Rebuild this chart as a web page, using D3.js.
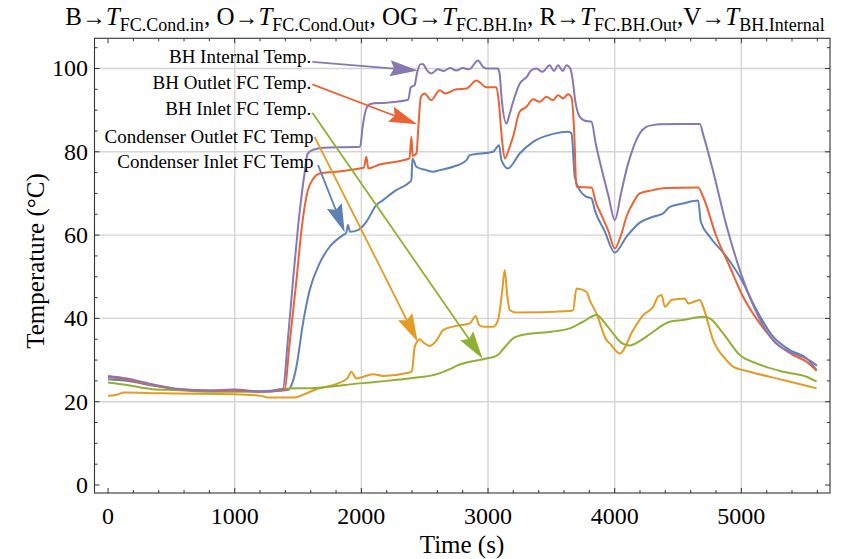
<!DOCTYPE html>
<html><head><meta charset="utf-8">
<script src="https://cdn.jsdelivr.net/npm/d3@7"></script>
<style>body{margin:0;background:#fff}</style>
</head><body><svg id="c" width="842" height="559"></svg>
<script>
// ---------- DATA (time s, temperature °C) ----------
const condInlet = [ // B  -> T_FC.Cond.in (blue)
[0,25.4],[150,25],[350,23.9],[550,23],[800,22.6],[1000,22.7],[1200,22.4],[1420,22.8],[1460,25],[1487,28.4],[1539,38.8],[1592,46.8],[1670,53.2],[1750,57.2],[1855,60],[1880,60.5],[1894,62.4],[1910,60.8],[1973,61.2],[2039,63.2],[2118,67.2],[2171,68.4],[2276,70.8],[2368,72.4],[2395,73.2],[2403,78.4],[2434,76.4],[2513,75.6],[2566,75.2],[2619,75.6],[2724,76.4],[2830,78],[2856,79.2],[3040,80],[3087,81.6],[3106,78],[3158,76],[3250,79.6],[3356,82.4],[3514,84.3],[3632,84.8],[3659,84.4],[3685,74],[3724,70.8],[3777,69.2],[3817,68.8],[3843,66],[3920,61],[4001,55.8],[4093,59.6],[4198,63],[4304,64.4],[4383,65.2],[4435,66.8],[4540,67.6],[4659,68.3],[4680,63.2],[4751,59.6],[4883,54.8],[4988,50],[5120,42],[5251,35.6],[5383,32.4],[5515,30.4],[5594,27.6]];
const condOutlet = [ // O -> T_FC.Cond.Out (orange)
[0,21.4],[60,21.6],[130,22.2],[420,22],[1000,21.8],[1210,21.4],[1262,21],[1473,21],[1550,21.8],[1644,23],[1815,24.4],[1890,25.6],[1921,27.2],[1960,25.6],[2092,26.6],[2171,26.2],[2381,27],[2400,27.4],[2420,33],[2445,34.6],[2460,35],[2490,34.2],[2540,33.4],[2600,35],[2645,37.2],[2750,38.2],[2856,38.8],[2903,40.6],[2930,38.4],[2970,38],[3040,38],[3079,39.6],[3110,46],[3132,51.6],[3150,46],[3171,42],[3224,41.4],[3645,41.8],[3672,42],[3698,47.2],[3777,46.4],[3803,44.4],[3856,41.2],[3935,34.8],[3961,34],[4040,31.6],[4146,37.2],[4225,40.8],[4304,42.8],[4343,45.2],[4370,45.6],[4396,42.8],[4449,44.4],[4554,44.8],[4580,43.6],[4672,44.4],[4698,42.8],[4777,34.8],[4883,30],[4935,28.4],[5067,27.2],[5330,25.2],[5594,23.2]];
const bhInlet = [ // OG -> T_FC.BH.In (green)
[0,24.6],[150,24],[350,23],[525,22.8],[800,22.4],[1236,22.4],[1381,23.1],[1631,23.3],[1987,24.4],[2200,25],[2487,26],[2540,26.2],[2698,27.8],[2750,28.6],[2961,30.2],[3066,31],[3130,33],[3198,35.2],[3303,36.2],[3500,36.8],[3645,37.6],[3750,39.2],[3856,40.8],[3920,39],[3987,36.4],[4060,34],[4119,33.5],[4200,34.6],[4277,36.2],[4435,39.2],[4540,39.6],[4698,40.4],[4751,40],[4856,36.4],[4988,31.2],[5120,29.2],[5330,27.2],[5515,26],[5594,24.8]];
const bhOutlet = [ // R -> T_FC.BH.Out (red)
[0,25.9],[150,25.3],[350,24],[550,23],[800,22.6],[1000,22.7],[1200,22.4],[1394,22.8],[1430,33],[1487,49],[1530,62],[1578,70.8],[1620,73.5],[1670,74.8],[1802,75.2],[1987,76],[2020,76.2],[2039,78.8],[2055,76],[2150,77],[2250,77.5],[2380,78.4],[2395,83.6],[2405,79],[2435,79.6],[2450,86],[2470,93.2],[2500,94],[2550,92.4],[2619,94.8],[2660,94],[2750,95],[2830,95.2],[2908,97.1],[2987,95.5],[3066,95.5],[3085,92],[3106,84.4],[3132,78.4],[3171,81.2],[3198,83.6],[3250,89.6],[3303,90.8],[3356,92.6],[3408,92],[3461,93.2],[3514,92.4],[3553,93.6],[3593,92.8],[3632,93.8],[3660,93],[3680,85],[3698,71.6],[3817,71.4],[3850,68],[3900,64.5],[3950,61],[4001,56.8],[4050,60],[4093,64.4],[4150,68],[4198,70],[4304,70.8],[4400,71.3],[4659,71.4],[4698,69.2],[4804,59.6],[4909,52.4],[5014,45.2],[5146,38.8],[5278,34],[5409,31.2],[5515,29.6],[5594,27.4]];
const bhInternal = [ // V -> T_BH.Internal (purple)
[0,26.2],[150,25.6],[350,24.2],[550,23.1],[800,22.7],[1000,22.9],[1200,22.5],[1380,23],[1420,35],[1460,49],[1500,62],[1552,75],[1575,79.5],[1620,80.5],[1700,81],[1990,81.2],[2010,86],[2040,90.5],[2070,91.5],[2200,91.8],[2370,92.5],[2390,95.5],[2420,96],[2440,99],[2465,101],[2484,101.1],[2520,99.5],[2553,98.8],[2603,99.8],[2650,99.4],[2700,100.1],[2750,99.5],[2800,100.1],[2850,99.8],[2921,101.9],[2960,100.4],[2987,100],[3077,100],[3090,99],[3110,92],[3145,86.8],[3170,89],[3195,91.7],[3251,96.4],[3306,98],[3340,99.5],[3382,100],[3430,99.2],[3487,100.8],[3520,99.4],[3553,100.8],[3590,99.4],[3619,100.8],[3650,100],[3665,98],[3690,92],[3724,88.4],[3760,87.5],[3817,87.2],[3850,82],[3900,75.5],[3950,69.5],[4001,63.6],[4050,70],[4100,76.5],[4143,80.7],[4200,84.5],[4250,86],[4301,86.4],[4356,86.6],[4500,86.7],[4672,86.7],[4700,84],[4775,75.6],[4885,62],[4988,51.6],[5122,41.3],[5249,34.8],[5384,31.9],[5518,30.3],[5560,29.5],[5597,28.6]];

const seriesColors = ["#5E81B5","#E19C24","#8FB032","#EB6235","#8778B3"];
const xTicks = [0,1000,2000,3000,4000,5000];
const yTicks = [0,20,40,60,80,100];
const xLabel = "Time (s)";
const yLabel = "Temperature (\u00B0C)";
const titleKeys = ["B","O","OG","R","V"];
const titleSubs = ["FC.Cond.in","FC.Cond.Out","FC.BH.In","FC.BH.Out","BH.Internal"];
// annotation labels: text, label anchor (t,v), arrow start (t,v), arrow tip (t,v)
const annLabels = ["BH Internal Temp.","BH Outlet FC Temp.","BH Inlet FC Temp.","Condenser Outlet FC Temp","Condenser Inlet FC Temp"];
const annSeries = [4,3,2,1,0];
const annTextPos = [[1605,101.4],[1605,95.1],[1605,88.8],[1622,82.1],[1622,76.0]];
const annStart = [[1613,101.6],[1613,96.2],[1613,89.4],[1631,83.6],[1658,76.8]];
const annTip = [[2447,99.5],[2440,86.6],[2957,30.3],[2445,34.4],[1868,60.7]];

// ---------- CHART ----------
const svg = d3.select("#c");
const L = 94.5, R = 830, T = 38.3, B = 493;
const x = d3.scaleLinear().domain([-107, 5700]).range([L, R]);
const y = d3.scaleLinear().domain([-1.92, 107.25]).range([B, T]);
const font = "'Liberation Serif','Times New Roman',serif";

// grid
const g = svg.append("g");
g.selectAll(".gx").data(xTicks.filter(d => d > 0)).enter().append("line")
  .attr("x1", d => x(d)).attr("x2", d => x(d)).attr("y1", T).attr("y2", B)
  .attr("stroke", "#d4d4d4").attr("stroke-width", 1.4);
g.selectAll(".gy").data(yTicks.filter(d => d > 0)).enter().append("line")
  .attr("y1", d => y(d)).attr("y2", d => y(d)).attr("x1", L).attr("x2", R)
  .attr("stroke", "#d4d4d4").attr("stroke-width", 1.4);

// series
const allSeries = [condInlet, condOutlet, bhInlet, bhOutlet, bhInternal];
const line = d3.line().x(d => x(d[0])).y(d => y(d[1])).curve(d3.curveMonotoneX);
allSeries.forEach((s, i) => {
  svg.append("path").datum(s).attr("d", line).attr("fill", "none")
    .attr("stroke", seriesColors[i]).attr("stroke-width", 2).attr("stroke-linejoin", "round");
});

// frame + inward ticks
svg.append("rect").attr("x", L).attr("y", T).attr("width", R - L).attr("height", B - T)
  .attr("fill", "none").attr("stroke", "#333").attr("stroke-width", 1.1);
const xMinor = d3.range(0, 5700, 200);
const yMinor = d3.range(0, 107, 5);
const tk = svg.append("g").attr("stroke", "#333").attr("stroke-width", 1);
xMinor.forEach(t => {
  const len = (t % 1000 === 0) ? 5 : 3;
  tk.append("line").attr("x1", x(t)).attr("x2", x(t)).attr("y1", B).attr("y2", B - len);
  tk.append("line").attr("x1", x(t)).attr("x2", x(t)).attr("y1", T).attr("y2", T + len);
});
yMinor.forEach(v => {
  const len = (v % 20 === 0) ? 5 : 3;
  tk.append("line").attr("y1", y(v)).attr("y2", y(v)).attr("x1", L).attr("x2", L + len);
  tk.append("line").attr("y1", y(v)).attr("y2", y(v)).attr("x1", R).attr("x2", R - len);
});

// tick labels
svg.selectAll(".xl").data(xTicks).enter().append("text")
  .attr("x", d => x(d)).attr("y", B + 31).attr("text-anchor", "middle")
  .attr("font-family", font).attr("font-size", 24).text(d => d);
svg.selectAll(".yl").data(yTicks).enter().append("text")
  .attr("x", L - 6.5).attr("y", d => y(d) + 8).attr("text-anchor", "end")
  .attr("font-family", font).attr("font-size", 24).text(d => d);

// axis labels
svg.append("text").attr("x", 462).attr("y", 553).attr("text-anchor", "middle")
  .attr("font-family", font).attr("font-size", 25).text(xLabel);
svg.append("text").attr("transform", "translate(44,261) rotate(-90)").attr("text-anchor", "middle")
  .attr("font-family", font).attr("font-size", 25).text(yLabel);

// title
const title = svg.append("text").attr("x", 445).attr("y", 25).attr("text-anchor", "middle")
  .attr("font-family", font).attr("font-size", 25);
titleKeys.forEach((k, i) => {
  const sep = i === 0 ? "" : (i === 4 ? "," : ", ");
  title.append("tspan").attr("dy", i === 0 ? 0 : -6).text(sep + k);
  title.append("tspan").attr("font-size", 24).text("\u2192");
  title.append("tspan").attr("font-style", "italic").text("T");
  title.append("tspan").attr("font-size", 18).attr("dy", 6).text(titleSubs[i]);
});

// annotations
annLabels.forEach((lab, i) => {
  const col = seriesColors[annSeries[i]];
  svg.append("text").attr("x", x(annTextPos[i][0])).attr("y", y(annTextPos[i][1]))
    .attr("text-anchor", "end").attr("font-family", font).attr("font-size", 19).text(lab);
  const p0 = [x(annStart[i][0]), y(annStart[i][1])];
  const p1 = [x(annTip[i][0]), y(annTip[i][1])];
  const dx = p1[0] - p0[0], dy = p1[1] - p0[1];
  const len = Math.hypot(dx, dy), ux = dx / len, uy = dy / len, nx = -uy, ny = ux;
  const HL = 28, HW = 8;
  const bx = p1[0] - ux * HL, by = p1[1] - uy * HL;
  svg.append("line").attr("x1", p0[0]).attr("y1", p0[1]).attr("x2", bx + ux * 4).attr("y2", by + uy * 4)
    .attr("stroke", col).attr("stroke-width", 1.8);
  svg.append("path").attr("d", `M${p1[0]},${p1[1]}L${bx + nx * HW},${by + ny * HW}L${bx + ux * 4},${by + uy * 4}L${bx - nx * HW},${by - ny * HW}Z`)
    .attr("fill", col);
});
</script></body></html>
